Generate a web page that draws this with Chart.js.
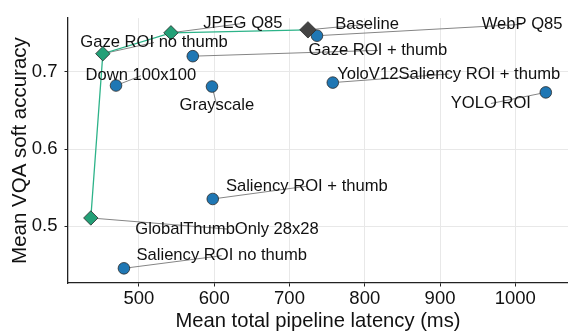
<!DOCTYPE html>
<html>
<head>
<meta charset="utf-8">
<script src="https://cdn.jsdelivr.net/npm/chart.js@4.4.1/dist/chart.umd.min.js"></script>
<style>
  html, body { margin: 0; padding: 0; background: #fff; }
  #wrap { width: 568px; height: 334px; }
</style>
</head>
<body>
<div id="wrap"><canvas id="c" width="568" height="334"></canvas></div>
<script>
// Pipeline variants: latency vs. VQA soft accuracy
const methods = [
  'GlobalThumbOnly 28x28', 'Gaze ROI no thumb', 'JPEG Q85', 'Baseline',
  'WebP Q85', 'Gaze ROI + thumb', 'Down 100x100', 'Grayscale',
  'YoloV12Saliency ROI + thumb', 'YOLO ROI', 'Saliency ROI + thumb', 'Saliency ROI no thumb'
];
const latencyMs = [436, 452, 542.5, 724.5, 736.5, 571.5, 469.5, 597, 757.5, 1040.5, 598, 480];
const softAccuracy = [0.5108, 0.7235, 0.7506, 0.7544, 0.7468, 0.7203, 0.6823, 0.6810, 0.6861, 0.6734, 0.5354, 0.4456];
// 'pareto' = on the latency/accuracy frontier, 'baseline' = reference pipeline
const role = ['pareto', 'pareto', 'pareto', 'baseline', 'other', 'other', 'other', 'other', 'other', 'other', 'other', 'other'];
const onFrontier = [true, true, true, true, false, false, false, false, false, false, false, false];

const xTickValues = [500, 600, 700, 800, 900, 1000];
const yTickValues = [0.5, 0.6, 0.7];

// Where each text label sits (centre of the text), in axis units
const labelLatency = [617, 520, 638, 803, 1009, 817.5, 502.5, 603.5, 911.5, 967.5, 723, 610];
const labelAccuracy = [0.4965, 0.738, 0.7627, 0.7615, 0.7615, 0.7278, 0.6949, 0.6565, 0.6972, 0.659, 0.5519, 0.462];

const FONT = '"Liberation Sans", Arial, Helvetica, sans-serif';

const pts = (filter) => latencyMs
  .map((x, i) => ({ x, y: softAccuracy[i], i }))
  .filter(p => filter(p.i));

const frontier = pts(i => onFrontier[i]).sort((a, b) => a.x - b.x);

const labelPlugin = {
  id: 'pointLabels',
  beforeDatasetsDraw(chart) {
    const { ctx, scales: { x, y } } = chart;
    ctx.save();
    ctx.strokeStyle = '#858585';
    ctx.lineWidth = 1;
    methods.forEach((m, i) => {
      const px = x.getPixelForValue(latencyMs[i]);
      const py = y.getPixelForValue(softAccuracy[i]);
      const lx = x.getPixelForValue(labelLatency[i]);
      const ly = y.getPixelForValue(labelAccuracy[i]);
      ctx.beginPath();
      ctx.moveTo(px, py);
      ctx.lineTo(lx, ly);
      ctx.stroke();
    });
    ctx.restore();
  },
  afterDatasetsDraw(chart) {
    const { ctx, scales: { x, y } } = chart;
    ctx.save();
    ctx.fillStyle = '#111';
    ctx.font = '16.6px ' + FONT;
    ctx.textAlign = 'center';
    ctx.textBaseline = 'middle';
    methods.forEach((m, i) => {
      ctx.fillText(m, x.getPixelForValue(labelLatency[i]), y.getPixelForValue(labelAccuracy[i]));
    });
    ctx.restore();
  }
};

new Chart(document.getElementById('c'), {
  type: 'scatter',
  data: {
    datasets: [
      {
        label: 'Pareto frontier',
        data: frontier,
        showLine: true,
        borderColor: '#2db389',
        borderWidth: 1.3,
        pointRadius: 0,
        order: 3
      },
      {
        label: 'Variants',
        data: pts(i => role[i] === 'other'),
        backgroundColor: '#1f77b4',
        borderColor: '#2a2a2a',
        borderWidth: 0.8,
        pointRadius: 5.8,
        order: 2
      },
      {
        label: 'Frontier points',
        data: pts(i => role[i] === 'pareto'),
        pointStyle: 'rectRot',
        backgroundColor: '#23a077',
        borderColor: '#2a2a2a',
        borderWidth: 0.8,
        pointRadius: 7.2,
        order: 1
      },
      {
        label: 'Baseline',
        data: pts(i => role[i] === 'baseline'),
        pointStyle: 'rectRot',
        backgroundColor: '#444444',
        borderColor: '#2a2a2a',
        borderWidth: 0.8,
        pointRadius: 8.2,
        order: 0
      }
    ]
  },
  options: {
    responsive: false,
    animation: false,
    devicePixelRatio: 1,
    layout: { autoPadding: false, padding: { top: 12, right: 0, left: 0, bottom: 0 } },
    plugins: { legend: { display: false }, tooltip: { enabled: false } },
    scales: {
      x: {
        type: 'linear',
        min: 405.7,
        max: 1070,
        afterBuildTicks: s => { s.ticks = xTickValues.map(v => ({ value: v })); },
        afterFit: s => { s.height = 51; },
        ticks: {
          callback: v => String(v),
          font: { family: FONT, size: 18.5 },
          color: '#111',
          padding: 1,
          maxRotation: 0
        },
        grid: { color: '#e8e8e8', lineWidth: 1, tickColor: '#222', tickLength: 3.5 },
        border: { color: '#222', width: 1.3 },
        title: {
          display: true,
          text: 'Mean total pipeline latency (ms)',
          font: { family: FONT, size: 20.2 },
          color: '#111',
          padding: { top: 0, bottom: 0 }
        }
      },
      y: {
        type: 'linear',
        min: 0.4266,
        max: 0.7696,
        afterBuildTicks: s => { s.ticks = yTickValues.map(v => ({ value: v })); },
        afterFit: s => { s.width = 68; },
        ticks: {
          callback: v => v.toFixed(1),
          font: { family: FONT, size: 18.5 },
          color: '#111',
          padding: 7
        },
        grid: { color: '#e8e8e8', lineWidth: 1, tickColor: '#222', tickLength: 3.5 },
        border: { color: '#222', width: 1.3 },
        title: {
          display: true,
          text: 'Mean VQA soft accuracy',
          font: { family: FONT, size: 20.5 },
          color: '#111',
          padding: { top: 8, bottom: 0 }
        }
      }
    }
  },
  plugins: [labelPlugin]
});
</script>
</body>
</html>
